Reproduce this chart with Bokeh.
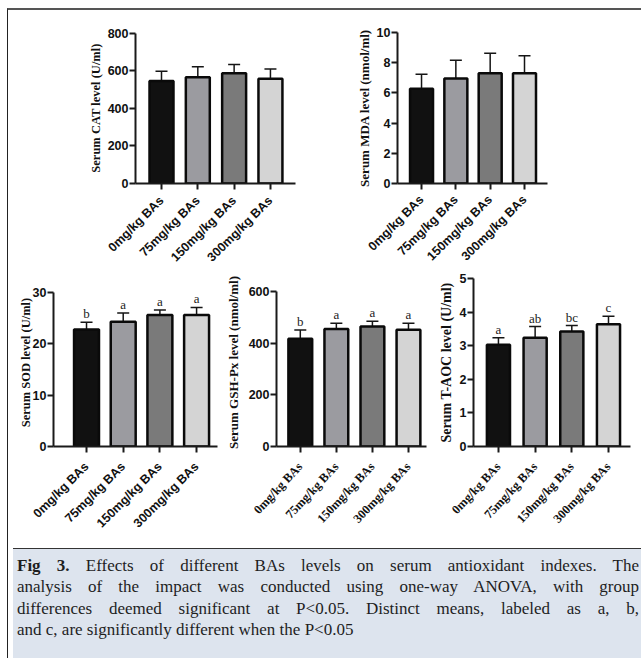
import math
from bokeh.plotting import figure
from bokeh.models import Range1d, FixedTicker, Whisker, TeeHead, ColumnDataSource, Div, Spacer
from bokeh.layouts import row, column
from bokeh.embed import file_html
from bokeh.resources import INLINE
from bokeh.core.properties import value

groups = ["0mg/kg BAs", "75mg/kg BAs", "150mg/kg BAs", "300mg/kg BAs"]
bar_colors = ["#111111", "#9b9ba0", "#7a7a7a", "#d4d4d4"]

cat_mean = [547, 566, 588, 559]
cat_upper = [598, 623, 634, 611]
mda_mean = [6.28, 6.96, 7.30, 7.30]
mda_upper = [7.24, 8.17, 8.63, 8.46]
sod_mean = [22.8, 24.3, 25.6, 25.6]
sod_upper = [24.2, 26.0, 26.6, 27.1]
sod_letters = ["b", "a", "a", "a"]
gsh_mean = [417, 455, 465, 452]
gsh_upper = [451, 477, 485, 477]
gsh_letters = ["b", "a", "a", "a"]
taoc_mean = [3.03, 3.24, 3.42, 3.64]
taoc_upper = [3.24, 3.57, 3.60, 3.88]
taoc_letters = ["a", "ab", "bc", "c"]

cat_ticks = [0, 200, 400, 600, 800]
mda_ticks = [0, 2, 4, 6, 8, 10]
sod_ticks = [0, 10, 20, 30]
gsh_ticks = [0, 200, 400, 600]
taoc_ticks = [0, 1, 2, 3, 4, 5]

SANS = "Liberation Sans"
SERIF = "Liberation Serif"


def panel(means, uppers, letters, yticks, title, w, h, mbl, mbr, mbt, mbb,
          pad_top, xs, xe, bw, title_size, title_standoff,
          cat_font, cat_size, cat_standoff, cat_angle):
    # plot frames in a row share top/bottom; pad_top (px) leaves room above
    # the last tick so that the y axis ends where the reference's does
    frame_h = h - mbt - mbb
    y0, y1 = yticks[0], yticks[-1]
    upp = (y1 - y0) / (frame_h - pad_top)
    p = figure(width=w, height=h, x_range=Range1d(xs, xe),
               y_range=Range1d(y0, y1 + pad_top * upp), title=None,
               output_backend="svg", toolbar_location=None,
               min_border_left=mbl, min_border_right=mbr,
               min_border_top=mbt, min_border_bottom=mbb)
    p.xgrid.visible = False
    p.ygrid.visible = False
    p.outline_line_color = None
    p.background_fill_color = "white"
    p.border_fill_color = "white"
    xi = list(range(len(groups)))
    src = ColumnDataSource(dict(x=xi, mean=means, upper=uppers, color=bar_colors,
                                letter=letters if letters else [""] * len(xi)))
    p.vbar(x="x", top="mean", bottom=0, width=bw, fill_color="color",
           line_color="#0a0a0a", line_width=2.5, source=src)
    wk = Whisker(base="x", lower="mean", upper="upper", source=src,
                 line_color="#151515", line_width=1.5,
                 upper_head=TeeHead(size=12, line_color="#151515", line_width=1.5),
                 lower_head=None)
    p.add_layout(wk)
    if letters:
        p.text(x="x", y="upper", text="letter", source=src, text_align="center",
               text_baseline="bottom", y_offset=-1,
               text_font=value(SERIF), text_font_size="13px", text_color="#222222")
    for ax in (p.xaxis, p.yaxis):
        ax.axis_line_width = 2
        ax.axis_line_color = "#1a1a1a"
        ax.major_tick_line_width = 2
        ax.major_tick_line_color = "#1a1a1a"
        ax.major_tick_out = 6
        ax.major_tick_in = 0
        ax.minor_tick_line_color = None
        ax.major_label_text_color = "#111111"
    p.xaxis.ticker = FixedTicker(ticks=xi)
    p.xaxis.major_label_overrides = {i: g for i, g in zip(xi, groups)}
    p.xaxis.major_label_orientation = cat_angle
    p.xaxis.major_label_text_font = cat_font
    p.xaxis.major_label_text_font_style = "bold"
    p.xaxis.major_label_text_font_size = cat_size
    p.xaxis.major_label_standoff = cat_standoff
    p.yaxis.bounds = (y0, y1)
    p.yaxis.ticker = FixedTicker(ticks=yticks)
    p.yaxis.major_label_text_font = SANS
    p.yaxis.major_label_text_font_style = "bold"
    p.yaxis.major_label_text_font_size = "12.5px"
    p.yaxis.major_label_standoff = 1
    p.yaxis.axis_label = title
    p.yaxis.axis_label_text_font = SERIF
    p.yaxis.axis_label_text_font_style = "bold"
    p.yaxis.axis_label_text_font_size = title_size
    p.yaxis.axis_label_standoff = title_standoff
    p.yaxis.axis_label_text_color = "#111111"
    return p


A45 = math.pi / 4
A47 = math.radians(47)

f1 = panel(cat_mean, cat_upper, None, cat_ticks, "Serum CAT level (U/ml)",
           312, 262, 127, 25, 22, 88, 1, -0.716, 3.69, 0.66, "12.5px", 2,
           SANS, "12.5px", 9, A45)
f2 = panel(mda_mean, mda_upper, None, mda_ticks, "Serum MDA level (nmol/ml)",
           320, 262, 77, 93, 22, 88, 0, -0.70, 3.67, 0.67, "13px", 2,
           SANS, "12.5px", 8, A45)
f3 = panel(sod_mean, sod_upper, sod_letters, sod_ticks, "Serum SOD level (U/ml)",
           214, 271, 45, 5, 6, 97, 14, -0.90, 3.57, 0.68, "12.5px", -3,
           SANS, "12.5px", 12, A45)
f4 = panel(gsh_mean, gsh_upper, gsh_letters, gsh_ticks, "Serum GSH-Px level (nmol/ml)",
           206, 271, 53, 2, 6, 97, 13, -0.66, 3.50, 0.66, "13px", 5,
           SERIF, "12.5px", 12, A47)
f5 = panel(taoc_mean, taoc_upper, taoc_letters, taoc_ticks, "Serum T-AOC level (U/ml)",
           212, 271, 45, 10, 6, 97, 0, -0.68, 3.60, 0.63, "14px", 3,
           SERIF, "12.5px", 12, A47)

line_style = "text-align:justify; text-align-last:justify; width:622px; height:21.3px;"
caption_html = (
    '<div style="padding:6px 0 0 4px; font-family:\'Liberation Serif\'; font-size:17px; '
    'line-height:21.3px; color:#1e1e1e; overflow:hidden;">'
    '<div style="' + line_style + '"><b>Fig 3.</b> Effects of different BAs levels on serum antioxidant indexes. The</div>'
    '<div style="' + line_style + '">analysis of the impact was conducted using one-way ANOVA, with group</div>'
    '<div style="' + line_style + '">differences deemed significant at P&lt;0.05. Distinct means, labeled as a, b,</div>'
    '<div style="white-space:nowrap;">and c, are significantly different when the P&lt;0.05</div>'
    '</div>'
)
caption = Div(text=caption_html, width=632, height=112,
              styles={"background-color": "#dde4ee", "border-top": "1px solid #333333",
                      "overflow": "hidden"})

inner = column(row(f1, f2), row(f3, f4, f5), caption,
               styles={"border-top": "2px solid #555555", "border-left": "1px solid #222222"})
layout = column(Spacer(width=1, height=8), row(Spacer(width=7, height=1), inner))

open("out.html", "w").write(file_html(layout, INLINE))
